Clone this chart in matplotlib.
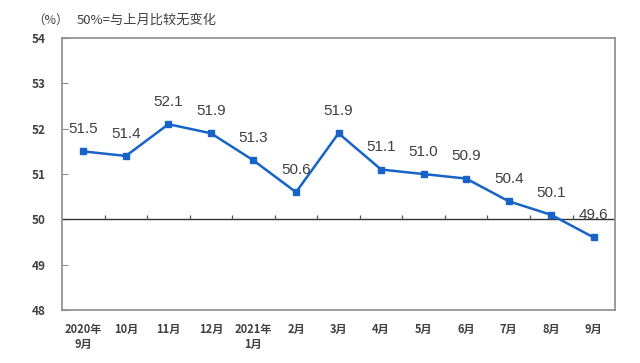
import numpy as np
import matplotlib
matplotlib.use("Agg")
import matplotlib.pyplot as plt

plt.rcParams['font.family'] = ['Noto Sans CJK SC', 'DejaVu Sans']

months = ["2020年\n9月", "10月", "11月", "12月", "2021年\n1月", "2月", "3月",
          "4月", "5月", "6月", "7月", "8月", "9月"]
pmi = [51.5, 51.4, 52.1, 51.9, 51.3, 50.6, 51.9, 51.1, 51.0, 50.9, 50.4, 50.1, 49.6]
yticks = [48, 49, 50, 51, 52, 53, 54]

blue = '#1763c8'
gray = '#8a8a8a'
txt = '#404040'

fig = plt.figure(figsize=(6.4, 3.63), dpi=100)
ax = fig.add_axes([0.097, 0.146, 0.864, 0.749])

x = np.arange(len(pmi))
ax.plot(x, pmi, color=blue, lw=1.8, marker='s', ms=4.5, zorder=3)
for i, v in enumerate(pmi):
    ax.annotate(f"{v:.1f}", (i, v), xytext=(0, 16), textcoords='offset points',
                ha='center', va='center', fontsize=11, color=txt,
                family=['Liberation Sans'])

# reference line at 50 with boundary ticks
ax.axhline(50, color='#333333', lw=1.0, zorder=2)
ax.vlines(np.arange(0.5, len(pmi) - 1), 50, 50.09, color='#555555', lw=0.9)

ax.set_xlim(-0.5, len(pmi) - 0.5)
ax.set_ylim(48, 54)
ax.set_yticks(yticks)
ax.set_yticklabels([str(t) for t in yticks], fontsize=8.5, color=txt,
                   fontweight='bold')
ax.tick_params(axis='y', direction='in', length=4, color=gray, pad=12)
ax.set_xticks(x)
ax.set_xticklabels(months, fontsize=8, color=txt, linespacing=1.25,
                   fontweight='bold')
ax.tick_params(axis='x', length=0, pad=9)
for s in ax.spines.values():
    s.set_color(gray)
    s.set_linewidth(1.2)

fig.text(32 / 640, 1 - 20 / 363, "（%）", fontsize=9, color=txt, va='center')
fig.text(77 / 640, 1 - 20 / 363, "50%=与上月比较无变化", fontsize=9.5, color=txt,
         va='center')

fig.savefig("out.png", dpi=100)
